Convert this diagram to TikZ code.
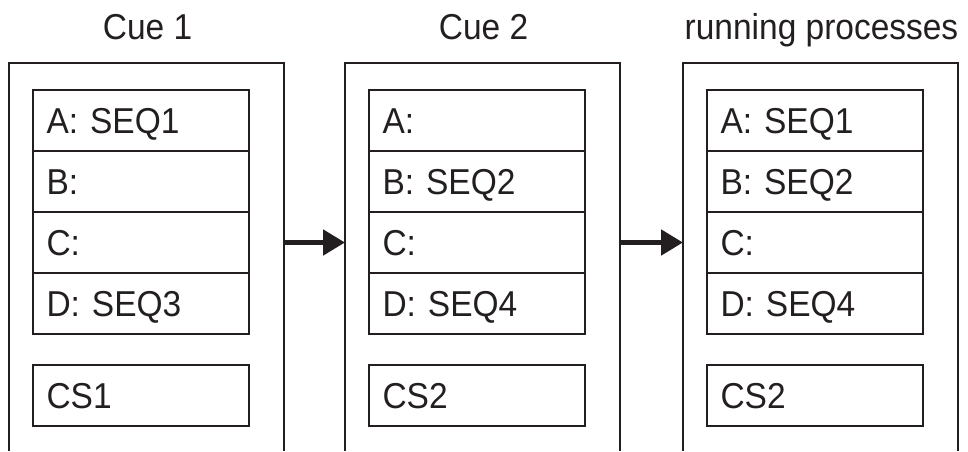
\documentclass[tikz,border=0pt]{standalone}
\usepackage{fontspec}
\setmainfont[FakeStretch=0.93]{Liberation Sans}
\usetikzlibrary{arrows.meta}
\definecolor{ink}{HTML}{231F20}
\begin{document}
\begin{tikzpicture}[x=1pt,y=-1pt,
  every node/.style={font=\fontsize{36}{42}\selectfont, text=ink},
  frame/.style={minimum width=275pt, minimum height=388pt, inner sep=0pt, outer sep=0pt, anchor=north west},
  framedraw/.style={draw=ink, line width=2.5pt, line join=miter},
  cell/.style={draw=ink, line width=2.5pt, minimum width=216pt, minimum height=61pt,
    text width=189pt, align=left, inner sep=0pt, outer sep=0pt,
    text height=26pt, text depth=0pt, anchor=north west},
  title/.style={anchor=base, inner sep=0pt},
  arr/.style={draw=ink, line width=5pt, -{Triangle[length=22pt,width=25pt]}}]
\useasboundingbox (0,0) rectangle (968,451);
\foreach \i/\x/\ttl/\ta/\tb/\tc/\td/\cs in {
  1/9/Cue 1/A: SEQ1/B:/C:/D: SEQ3/CS1,
  2/345/Cue 2/A:/B: SEQ2/C:/D: SEQ4/CS2,
  3/683/running processes/A: SEQ1/B: SEQ2/C:/D: SEQ4/CS2}{
  \node[frame] (q\i) at (\x,63) {};
  \draw[framedraw] (q\i.south west) -- (q\i.north west) -- (q\i.north east) -- (q\i.south east);
  \node[title] (t\i) at (\x+138.5,39) {\ttl};
  \node[cell] (a\i) at (\x+24,90) {\ta};
  \node[cell] (b\i) at (\x+24,151) {\tb};
  \node[cell] (c\i) at (\x+24,212) {\tc};
  \node[cell] (d\i) at (\x+24,273) {\td};
  \node[cell] (s\i) at (\x+24,365) {\cs};
}
\draw[arr] (q1.east |- c1.center) -- (q2.west |- c1.center);
\draw[arr] (q2.east |- c2.center) -- (q3.west |- c2.center);
\end{tikzpicture}
\end{document}
